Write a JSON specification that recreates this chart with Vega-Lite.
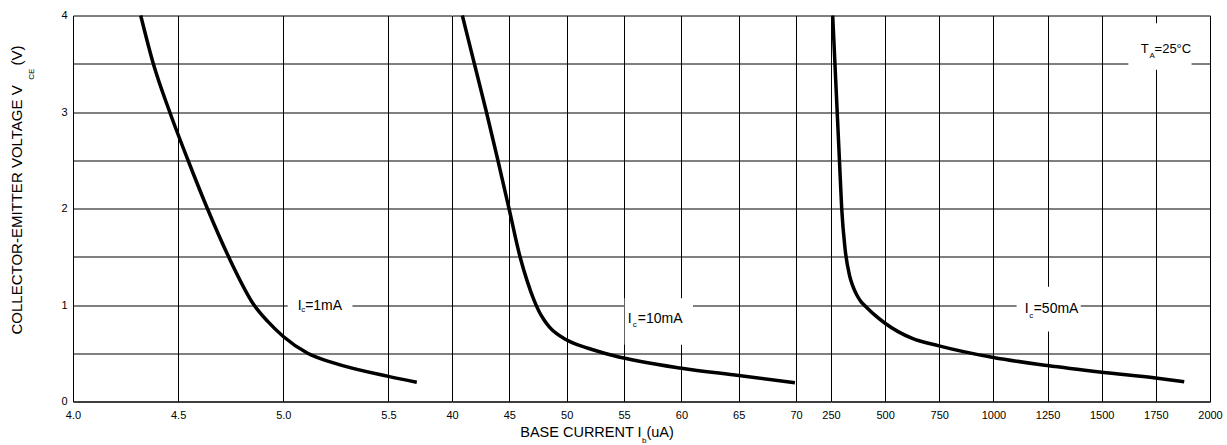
{
  "$schema": "https://vega.github.io/schema/vega-lite/v6.json",
  "background": "white",
  "padding": {"left": 10, "top": 8.5, "right": 5, "bottom": 0},
  "autosize": {"type": "pad"},
  "bounds": "flush",
  "spacing": 0,
  "config": {
    "font": "Liberation Sans",
    "view": {"stroke": null},
    "axis": {
      "gridColor": "#000", "gridOpacity": 1, "gridWidth": 1,
      "domainColor": "#000", "domainWidth": 1,
      "ticks": false, "tickSize": 0,
      "labelColor": "#000", "labelFont": "Liberation Sans", "labelFontSize": 11,
      "labelOverlap": false, "labelFlush": false, "labelBound": false
    }
  },
  "datasets": {
    "ic1": [
      {"ib": 4.322, "vce": 4.0}, {"ib": 4.382, "vce": 3.5}, {"ib": 4.46, "vce": 3.0},
      {"ib": 4.547, "vce": 2.5}, {"ib": 4.639, "vce": 2.0}, {"ib": 4.74, "vce": 1.5},
      {"ib": 4.861, "vce": 1.0}, {"ib": 4.926, "vce": 0.83},
      {"ib": 5.0, "vce": 0.674}, {"ib": 5.116, "vce": 0.5}, {"ib": 5.243, "vce": 0.397},
      {"ib": 5.5, "vce": 0.26}, {"ib": 5.635, "vce": 0.2}
    ],
    "ic10": [
      {"ib": 40.9, "vce": 4.0}, {"ib": 41.95, "vce": 3.5}, {"ib": 43.0, "vce": 3.0},
      {"ib": 44.0, "vce": 2.5}, {"ib": 44.97, "vce": 2.0}, {"ib": 45.93, "vce": 1.5},
      {"ib": 46.55, "vce": 1.25}, {"ib": 47.15, "vce": 1.05}, {"ib": 47.6, "vce": 0.93},
      {"ib": 48.0, "vce": 0.85}, {"ib": 48.5, "vce": 0.77},
      {"ib": 49.97, "vce": 0.64}, {"ib": 51.87, "vce": 0.552}, {"ib": 54.05, "vce": 0.477},
      {"ib": 60.0, "vce": 0.345}, {"ib": 65.0, "vce": 0.27}, {"ib": 69.9, "vce": 0.195}
    ],
    "ic50": [
      {"ib": 257.8, "vce": 4.0}, {"ib": 268.2, "vce": 3.5}, {"ib": 278.6, "vce": 3.0},
      {"ib": 289.0, "vce": 2.5}, {"ib": 299.4, "vce": 2.0}, {"ib": 314.6, "vce": 1.589},
      {"ib": 334.9, "vce": 1.313}, {"ib": 350.0, "vce": 1.2}, {"ib": 368.6, "vce": 1.106},
      {"ib": 390.0, "vce": 1.03}, {"ib": 414.8, "vce": 0.975}, {"ib": 450.0, "vce": 0.9},
      {"ib": 499.4, "vce": 0.811}, {"ib": 622.6, "vce": 0.656}, {"ib": 748.6, "vce": 0.577},
      {"ib": 1000, "vce": 0.456}, {"ib": 1249, "vce": 0.373}, {"ib": 1500, "vce": 0.304},
      {"ib": 1749, "vce": 0.243}, {"ib": 1881, "vce": 0.205}
    ]
  },
  "hconcat": [
    {
      "width": 378.5,
      "height": 386,
      "layer": [
        {
          "data": {"name": "ic1"},
          "mark": {"type": "line", "color": "#000", "strokeWidth": 3.5, "interpolate": "monotone"},
          "encoding": {
            "x": {"field": "ib", "type": "quantitative",
                  "scale": {"domain": [4, 5.8], "nice": false, "zero": false},
                  "axis": {"values": [4, 4.5, 5, 5.5], "format": ".1f", "title": null, "labelPadding": 8}},
            "y": {"field": "vce", "type": "quantitative",
                  "scale": {"domain": [0, 4], "nice": false},
                  "axis": {"values": [0, 0.5, 1, 1.5, 2, 2.5, 3, 3.5, 4], "format": ".0f", "labelExpr": "datum.value % 1 === 0 ? datum.label : ''", "title": null, "labelPadding": 6}}
          }
        },
        {
          "data": {"values": [{"x1": 5.021, "x2": 5.329, "y1": 0.9, "y2": 1.15}]},
          "mark": {"type": "rect", "color": "white"},
          "encoding": {
            "x": {"field": "x1", "type": "quantitative", "axis": {"title": null}},
            "x2": {"field": "x2"},
            "y": {"field": "y1", "type": "quantitative", "axis": {"title": null}},
            "y2": {"field": "y2"}
          }
        },
        {
          "data": {"values": [{"t": "I", "x": 5.0685, "y": 0.95}, {"t": "=1mA", "x": 5.104, "y": 0.95}]},
          "mark": {"type": "text", "align": "left", "baseline": "alphabetic", "fontSize": 14, "color": "#000"},
          "encoding": {
            "x": {"field": "x", "type": "quantitative", "axis": {"title": null}},
            "y": {"field": "y", "type": "quantitative", "axis": {"title": null}},
            "text": {"field": "t"}
          }
        },
        {
          "data": {"values": [{"t": "c", "x": 5.085, "y": 0.927}]},
          "mark": {"type": "text", "align": "left", "baseline": "alphabetic", "fontSize": 8, "color": "#000"},
          "encoding": {
            "x": {"field": "x", "type": "quantitative", "axis": {"title": null}},
            "y": {"field": "y", "type": "quantitative", "axis": {"title": null}},
            "text": {"field": "t"}
          }
        },
        {
          "data": {"values": [{"t": "COLLECTOR-EMITTER VOLTAGE V", "x": 3.759, "y": 0.694}, {"t": "(V)", "x": 3.759, "y": 3.482}]},
          "mark": {"type": "text", "align": "left", "baseline": "alphabetic", "angle": 270, "fontSize": 15, "color": "#000"},
          "encoding": {
            "x": {"field": "x", "type": "quantitative", "axis": {"title": null}},
            "y": {"field": "y", "type": "quantitative", "axis": {"title": null}},
            "text": {"field": "t"}
          }
        },
        {
          "data": {"values": [{"t": "CE", "x": 3.8146, "y": 3.334}]},
          "mark": {"type": "text", "align": "left", "baseline": "alphabetic", "angle": 270, "fontSize": 8, "color": "#000"},
          "encoding": {
            "x": {"field": "x", "type": "quantitative", "axis": {"title": null}},
            "y": {"field": "y", "type": "quantitative", "axis": {"title": null}},
            "text": {"field": "t"}
          }
        }
      ]
    },
    {
      "width": 378.5,
      "height": 386,
      "layer": [
        {
          "data": {"name": "ic10"},
          "mark": {"type": "line", "color": "#000", "strokeWidth": 3.5, "interpolate": "monotone"},
          "encoding": {
            "x": {"field": "ib", "type": "quantitative",
                  "scale": {"domain": [40, 73], "nice": false, "zero": false},
                  "axis": {"values": [40, 45, 50, 55, 60, 65, 70], "format": "d", "title": null, "labelPadding": 8}},
            "y": {"field": "vce", "type": "quantitative",
                  "scale": {"domain": [0, 4], "nice": false},
                  "axis": {"values": [0, 0.5, 1, 1.5, 2, 2.5, 3, 3.5, 4], "labels": false, "domain": false, "title": null}}
          }
        },
        {
          "data": {"values": [{"x1": 55.05, "x2": 61.01, "y1": 0.588, "y2": 1.07}]},
          "mark": {"type": "rect", "color": "white"},
          "encoding": {
            "x": {"field": "x1", "type": "quantitative", "axis": {"title": null}},
            "x2": {"field": "x2"},
            "y": {"field": "y1", "type": "quantitative", "axis": {"title": null}},
            "y2": {"field": "y2"}
          }
        },
        {
          "data": {"values": [{"t": "I", "x": 55.33, "y": 0.811}, {"t": "=10mA", "x": 56.2, "y": 0.811}]},
          "mark": {"type": "text", "align": "left", "baseline": "alphabetic", "fontSize": 14, "color": "#000"},
          "encoding": {
            "x": {"field": "x", "type": "quantitative", "axis": {"title": null}},
            "y": {"field": "y", "type": "quantitative", "axis": {"title": null}},
            "text": {"field": "t"}
          }
        },
        {
          "data": {"values": [{"t": "c", "x": 55.76, "y": 0.777}]},
          "mark": {"type": "text", "align": "left", "baseline": "alphabetic", "fontSize": 8, "color": "#000"},
          "encoding": {
            "x": {"field": "x", "type": "quantitative", "axis": {"title": null}},
            "y": {"field": "y", "type": "quantitative", "axis": {"title": null}},
            "text": {"field": "t"}
          }
        },
        {
          "data": {"values": [{"t": "BASE CURRENT I", "x": 45.95, "y": -0.37}, {"t": "(uA)", "x": 56.95, "y": -0.37}]},
          "mark": {"type": "text", "align": "left", "baseline": "alphabetic", "fontSize": 14.5, "color": "#000"},
          "encoding": {
            "x": {"field": "x", "type": "quantitative", "axis": {"title": null}},
            "y": {"field": "y", "type": "quantitative", "axis": {"title": null}},
            "text": {"field": "t"}
          }
        },
        {
          "data": {"values": [{"t": "b", "x": 56.56, "y": -0.43}]},
          "mark": {"type": "text", "align": "left", "baseline": "alphabetic", "fontSize": 8, "color": "#000"},
          "encoding": {
            "x": {"field": "x", "type": "quantitative", "axis": {"title": null}},
            "y": {"field": "y", "type": "quantitative", "axis": {"title": null}},
            "text": {"field": "t"}
          }
        }
      ]
    },
    {
      "width": 379,
      "height": 386,
      "layer": [
        {
          "data": {"name": "ic50"},
          "mark": {"type": "line", "color": "#000", "strokeWidth": 3.5, "interpolate": "monotone"},
          "encoding": {
            "x": {"field": "ib", "type": "quantitative",
                  "scale": {"domain": [250, 2000], "nice": false, "zero": false},
                  "axis": {"values": [250, 500, 750, 1000, 1250, 1500, 1750, 2000], "format": "d", "title": null, "labelPadding": 8}},
            "y": {"field": "vce", "type": "quantitative",
                  "scale": {"domain": [0, 4], "nice": false},
                  "axis": {"values": [0, 0.5, 1, 1.5, 2, 2.5, 3, 3.5, 4], "labels": false, "domain": false, "title": null}}
          }
        },
        {
          "data": {"values": [{"x1": 1107, "x2": 1403, "y1": 0.725, "y2": 1.19}, {"x1": 1623, "x2": 1915, "y1": 3.437, "y2": 3.92}]},
          "mark": {"type": "rect", "color": "white"},
          "encoding": {
            "x": {"field": "x1", "type": "quantitative", "axis": {"title": null}},
            "x2": {"field": "x2"},
            "y": {"field": "y1", "type": "quantitative", "axis": {"title": null}},
            "y2": {"field": "y2"}
          }
        },
        {
          "data": {"values": [{"t": "I", "x": 1144.3, "y": 0.915}, {"t": "=50mA", "x": 1185.9, "y": 0.915}]},
          "mark": {"type": "text", "align": "left", "baseline": "alphabetic", "fontSize": 14, "color": "#000"},
          "encoding": {
            "x": {"field": "x", "type": "quantitative", "axis": {"title": null}},
            "y": {"field": "y", "type": "quantitative", "axis": {"title": null}},
            "text": {"field": "t"}
          }
        },
        {
          "data": {"values": [{"t": "c", "x": 1165.1, "y": 0.87}]},
          "mark": {"type": "text", "align": "left", "baseline": "alphabetic", "fontSize": 8, "color": "#000"},
          "encoding": {
            "x": {"field": "x", "type": "quantitative", "axis": {"title": null}},
            "y": {"field": "y", "type": "quantitative", "axis": {"title": null}},
            "text": {"field": "t"}
          }
        },
        {
          "data": {"values": [{"t": "T", "x": 1680, "y": 3.609}, {"t": "=25°C", "x": 1744, "y": 3.609}]},
          "mark": {"type": "text", "align": "left", "baseline": "alphabetic", "fontSize": 13, "color": "#000"},
          "encoding": {
            "x": {"field": "x", "type": "quantitative", "axis": {"title": null}},
            "y": {"field": "y", "type": "quantitative", "axis": {"title": null}},
            "text": {"field": "t"}
          }
        },
        {
          "data": {"values": [{"t": "A", "x": 1721, "y": 3.557}]},
          "mark": {"type": "text", "align": "left", "baseline": "alphabetic", "fontSize": 8, "color": "#000"},
          "encoding": {
            "x": {"field": "x", "type": "quantitative", "axis": {"title": null}},
            "y": {"field": "y", "type": "quantitative", "axis": {"title": null}},
            "text": {"field": "t"}
          }
        }
      ]
    }
  ]
}
